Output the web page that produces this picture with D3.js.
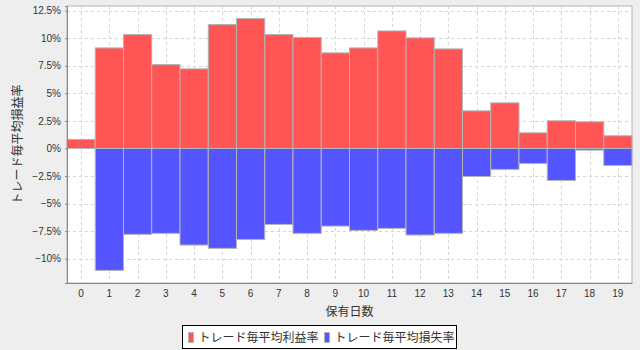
<!DOCTYPE html>
<html>
<head>
<meta charset="utf-8">
<script src="https://cdn.jsdelivr.net/npm/d3@7"></script>
<style>
  body { margin: 0; background: #eeeeee; }
  svg { display: block; }
  .tick text { font-family: "Liberation Sans", Arial, sans-serif; font-size: 10px; fill: #333; }
  .jp { font-family: "Noto Sans CJK JP", sans-serif; font-size: 12px; fill: #333; }
</style>
</head>
<body>
<div id="chart"></div>
<script>
// holding days (category labels)
const days = d3.range(0, 20).map(String);
// average profit rate per trade (%)
const profitRate = [0.82, 9.12, 10.33, 7.61, 7.22, 11.24, 11.78, 10.33, 10.06, 8.67,
                    9.12, 10.66, 10.03, 9.03, 3.41, 4.14, 1.42, 2.51, 2.42, 1.15];
// average loss rate per trade (%)
const lossRate = [0, -11.06, -7.79, -7.70, -8.76, -9.06, -8.25, -6.89, -7.70, -7.04,
                  -7.43, -7.25, -7.85, -7.70, -2.54, -1.90, -1.36, -2.90, -0.15, -1.54];
const yTicks = [-10, -7.5, -5, -2.5, 0, 2.5, 5, 7.5, 10, 12.5];
const seriesNames = ["トレード毎平均利益率", "トレード毎平均損失率"];
const colors = ["#ff5555", "#5555ff"];

const width = 640, height = 350;
const plot = {left: 67, right: 632, top: 6, bottom: 283};

const svg = d3.select("#chart").append("svg")
    .attr("width", width)
    .attr("height", height);

svg.append("rect")
    .attr("width", width).attr("height", height)
    .attr("fill", "#eeeeee");

// auto range with 5% margin each side (like the original chart)
let lo = d3.min(lossRate), hi = d3.max(profitRate);
let margin = (hi - lo) * 0.05;

const x = d3.scaleBand()
    .domain(days)
    .range([plot.left, plot.right])
    .padding(0);

const y = d3.scaleLinear()
    .domain([lo - margin, hi + margin])
    .range([plot.bottom, plot.top]);

// plot background
svg.append("rect")
    .attr("x", plot.left).attr("y", plot.top)
    .attr("width", plot.right - plot.left)
    .attr("height", plot.bottom - plot.top)
    .attr("fill", "white")
    .attr("stroke", "#b4b4b4");

// gridlines
let grid = svg.append("g")
    .attr("stroke", "#d4d4d4")
    .attr("stroke-dasharray", "3,3");
grid.selectAll("line.h")
    .data(yTicks)
    .enter()
    .append("line")
    .attr("x1", plot.left).attr("x2", plot.right)
    .attr("y1", d => Math.round(y(d)) + 0.5)
    .attr("y2", d => Math.round(y(d)) + 0.5);
grid.selectAll("line.v")
    .data(days)
    .enter()
    .append("line")
    .attr("y1", plot.top).attr("y2", plot.bottom)
    .attr("x1", d => Math.round(x(d) + x.bandwidth() / 2) + 0.5)
    .attr("x2", d => Math.round(x(d) + x.bandwidth() / 2) + 0.5);

// bars
let bars = svg.append("g");
[profitRate, lossRate].forEach((values, k) => {
    bars.selectAll("rect.s" + k)
        .data(values)
        .enter()
        .append("rect")
        .attr("class", "s" + k)
        .attr("x", (d, i) => x(days[i]))
        .attr("width", x.bandwidth())
        .attr("y", d => Math.min(y(d), y(0)))
        .attr("height", d => Math.abs(y(d) - y(0)))
        .attr("fill", colors[k])
        .attr("stroke", "#b4b4b4")
        .attr("stroke-width", 1);
});

// y axis
let yAxis = svg.append("g")
    .attr("transform", "translate(" + plot.left + ",0)")
    .call(d3.axisLeft(y)
        .tickValues(yTicks)
        .tickSize(2)
        .tickPadding(4)
        .tickFormat(d => d3.format("~g")(d) + "%"));
yAxis.select(".domain").attr("stroke", "#888");
yAxis.selectAll(".tick line").attr("stroke", "#888");

// x axis
let xAxis = svg.append("g")
    .attr("transform", "translate(0," + plot.bottom + ")")
    .call(d3.axisBottom(x).tickSize(0).tickPadding(7));
xAxis.select(".domain").attr("stroke", "#888");

// axis titles
svg.append("text")
    .attr("class", "jp")
    .attr("x", (plot.left + plot.right) / 2)
    .attr("y", 316)
    .attr("text-anchor", "middle")
    .text("保有日数");

svg.append("text")
    .attr("class", "jp")
    .attr("transform", "translate(22," + ((plot.top + plot.bottom) / 2) + ") rotate(-90)")
    .attr("text-anchor", "middle")
    .text("トレード毎平均損益率");

// legend
let legend = svg.append("g");
legend.append("rect")
    .attr("x", 182.5).attr("y", 325.5)
    .attr("width", 274).attr("height", 23)
    .attr("fill", "white")
    .attr("stroke", "black");
let itemX = [188.5, 324.5];
seriesNames.forEach((name, k) => {
    legend.append("rect")
        .attr("x", itemX[k]).attr("y", 332.5)
        .attr("width", 5).attr("height", 10)
        .attr("fill", colors[k])
        .attr("stroke", "#b4b4b4");
    legend.append("text")
        .attr("class", "jp")
        .attr("x", itemX[k] + 10)
        .attr("y", 342)
        .text(name);
});
</script>
</body>
</html>
